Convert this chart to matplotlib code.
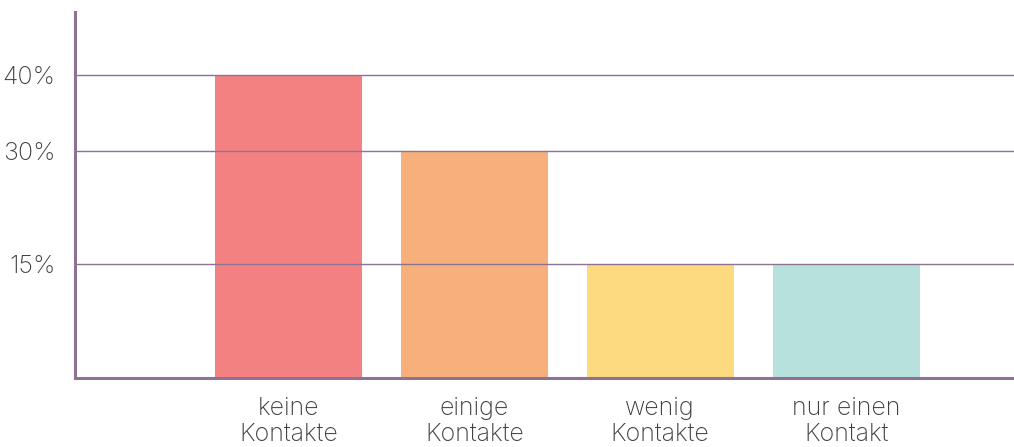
import matplotlib.pyplot as plt

# data
categories = ['keine\nKontakte', 'einige\nKontakte', 'wenig\nKontakte', 'nur einen\nKontakt']
values = [40, 30, 15, 15]
colors = ['#f38181', '#f7b07b', '#fdda7f', '#b7e1dc']
yticks = [15, 30, 40]
ytick_labels = ['15%', '30%', '40%']

axis_color = '#8d7294'
text_color = '#404040'

plt.rcParams['font.family'] = ['Inter', 'DejaVu Sans']

fig = plt.figure(figsize=(10.14, 4.47), dpi=100)
ax = fig.add_axes([75 / 1014, 69 / 447, 939 / 1014, 366 / 447])

x = range(len(categories))
ax.bar(x, values, width=0.79, color=colors, zorder=1)

# grid lines on top of the bars
for t in yticks:
    ax.axhline(t, color=axis_color, linewidth=1.0, zorder=2)

ax.set_xlim(-1.148, 3.903)
ax.set_ylim(0, 48.3)

ax.set_yticks(yticks)
ax.set_yticklabels(ytick_labels, fontsize=18, color=text_color, fontweight='light',
                   va='center_baseline')
ax.set_xticks(list(x))
ax.set_xticklabels(categories, fontsize=18, color=text_color, fontweight='light',
                   linespacing=1.15, va='top')
ax.tick_params(axis='both', length=0)
ax.tick_params(axis='y', pad=14)
ax.tick_params(axis='x', pad=14)

for side in ['top', 'right']:
    ax.spines[side].set_visible(False)
for side in ['left', 'bottom']:
    ax.spines[side].set_color(axis_color)
    ax.spines[side].set_linewidth(2.2)
    ax.spines[side].set_zorder(3)

fig.savefig('out.png', dpi=100)
